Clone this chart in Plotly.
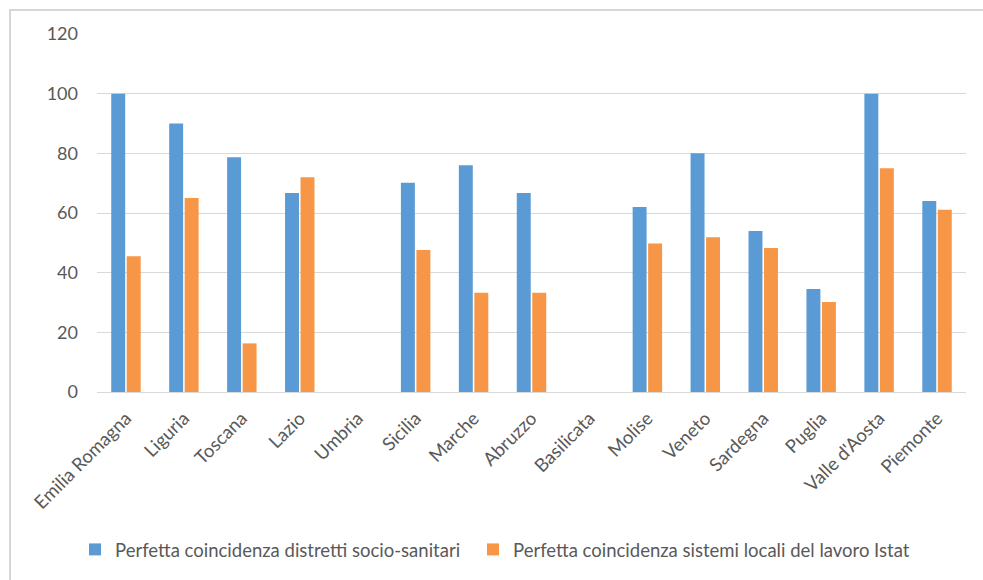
import plotly.graph_objects as go

regioni = ["Emilia Romagna", "Liguria", "Toscana", "Lazio", "Umbria", "Sicilia",
           "Marche", "Abruzzo", "Basilicata", "Molise", "Veneto", "Sardegna",
           "Puglia", "Valle d'Aosta", "Piemonte"]

distretti = [100, 90, 78.7, 66.7, 0, 70.1, 76, 66.7, 0, 62, 80, 54, 34.5, 100, 64]
sistemi_locali = [45.5, 65, 16.3, 72, 0, 47.6, 33.3, 33.3, 0, 49.8, 51.9, 48.3, 30.2, 75, 61.1]

serie_1 = "Perfetta coincidenza distretti socio-sanitari"
serie_2 = "Perfetta coincidenza sistemi locali del lavoro Istat"

y_ticks = [0, 20, 40, 60, 80, 100, 120]

BLU = "#5B9BD5"
ARANCIO = "#F79646"
TESTO = "#595959"
GRIGLIA = "#D9D9D9"
CORNICE = "#D6D6D6"
FONT = "Lato, Calibri, Arial, sans-serif"

fig = go.Figure()
fig.add_trace(go.Bar(x=regioni, y=distretti, name=serie_1, legend="legend",
                     marker=dict(color=BLU, line=dict(width=0))))
fig.add_trace(go.Bar(x=regioni, y=sistemi_locali, name=serie_2, legend="legend2",
                     marker=dict(color=ARANCIO, line=dict(width=0))))

legenda = dict(orientation="h", xanchor="left", y=-0.437, yanchor="middle",
               font=dict(family=FONT, size=18.5, color=TESTO),
               itemwidth=30, bgcolor="rgba(0,0,0,0)")

fig.update_layout(
    width=983, height=580,
    margin=dict(l=97, r=17, t=34, b=187),
    paper_bgcolor="white", plot_bgcolor="white",
    barmode="group", bargap=0.465, bargroupgap=0.1,
    font=dict(family=FONT, size=18, color=TESTO),
    showlegend=True,
    legend=dict(legenda, x=-0.0253),
    legend2=dict(legenda, x=0.4327),
    xaxis=dict(tickangle=-45, showgrid=False, showline=False, zeroline=False,
               tickfont=dict(family=FONT, size=18.5, color=TESTO),
               ticks="", ticklabelstandoff=11),
    yaxis=dict(range=[0, 120], tickvals=y_ticks, showgrid=True, gridcolor=GRIGLIA,
               gridwidth=1, zeroline=True, zerolinecolor=GRIGLIA, zerolinewidth=1,
               showline=False, ticks="", ticklabelstandoff=18,
               tickfont=dict(family=FONT, size=18, color=TESTO)),
    shapes=[
        # outer frame: top edge and left edge of the chart area
        dict(type="path", xref="paper", yref="paper",
             path="M 1.0196 1.0669 L -0.1001 1.0669 L -0.1001 -0.53",
             line=dict(color=CORNICE, width=2)),
    ],
)

fig.write_html("out.html", config=dict(displayModeBar=False))
